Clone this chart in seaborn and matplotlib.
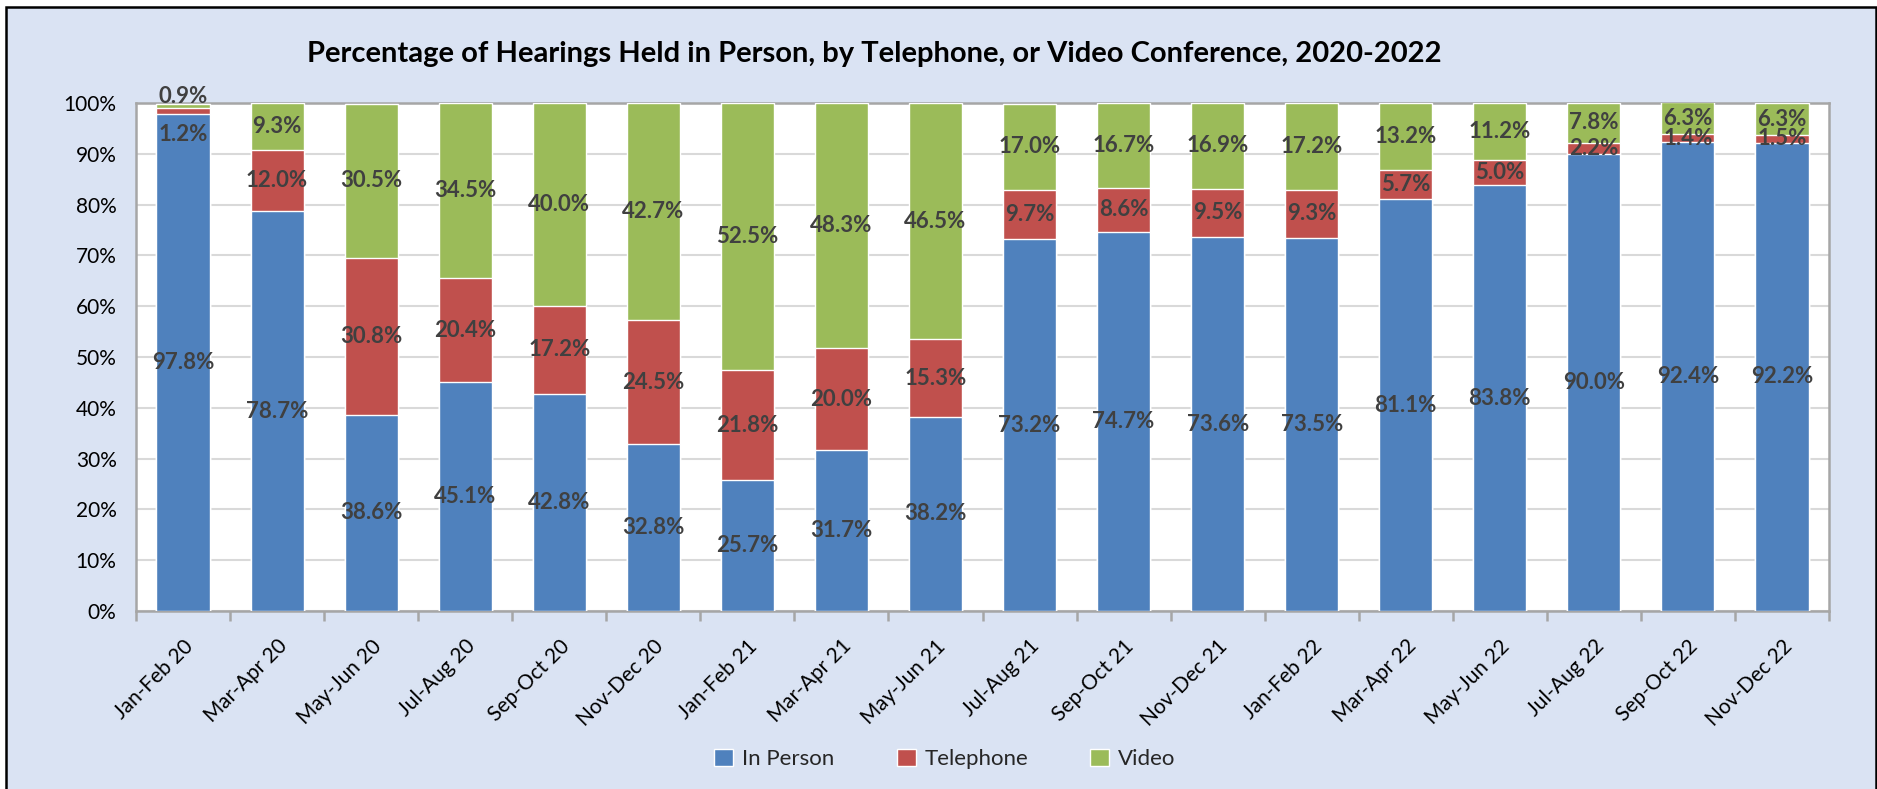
import matplotlib
matplotlib.use("Agg")
import matplotlib.pyplot as plt
from matplotlib.patches import Rectangle
import numpy as np
import pandas as pd
import seaborn as sns

periods = ["Jan-Feb 20", "Mar-Apr 20", "May-Jun 20", "Jul-Aug 20", "Sep-Oct 20",
           "Nov-Dec 20", "Jan-Feb 21", "Mar-Apr 21", "May-Jun 21", "Jul-Aug 21",
           "Sep-Oct 21", "Nov-Dec 21", "Jan-Feb 22", "Mar-Apr 22", "May-Jun 22",
           "Jul-Aug 22", "Sep-Oct 22", "Nov-Dec 22"]
in_person = [97.8, 78.7, 38.6, 45.1, 42.8, 32.8, 25.7, 31.7, 38.2,
             73.2, 74.7, 73.6, 73.5, 81.1, 83.8, 90.0, 92.4, 92.2]
telephone = [1.2, 12.0, 30.8, 20.4, 17.2, 24.5, 21.8, 20.0, 15.3,
             9.7, 8.6, 9.5, 9.3, 5.7, 5.0, 2.2, 1.4, 1.5]
video = [0.9, 9.3, 30.5, 34.5, 40.0, 42.7, 52.5, 48.3, 46.5,
         17.0, 16.7, 16.9, 17.2, 13.2, 11.2, 7.8, 6.3, 6.3]
series_names = ["In Person", "Telephone", "Video"]
y_ticks = list(range(0, 101, 10))

colors = {"In Person": "#4F81BD", "Telephone": "#C0504D", "Video": "#9BBB59"}
bg = "#DAE3F3"

sns.set_theme(style="white")
plt.rcParams["font.family"] = ["Lato", "DejaVu Sans"]

df = pd.DataFrame({"period": periods, "In Person": in_person,
                   "Telephone": telephone, "Video": video})
df["top_person"] = df["In Person"]
df["top_phone"] = df["In Person"] + df["Telephone"]
df["top_video"] = df["top_phone"] + df["Video"]

fig = plt.figure(figsize=(18.77, 7.89), dpi=100, facecolor="white")
fig.patches.append(Rectangle((6 / 1877, -0.02), 1870 / 1877, 1 - 7 / 789 + 0.02,
                             transform=fig.transFigure, facecolor=bg,
                             edgecolor="black", linewidth=1.8, zorder=-10))

ax = fig.add_axes([136 / 1877, 1 - 611 / 789, (1829 - 136) / 1877, (611 - 103) / 789])
ax.set_facecolor("white")

bar_w = 0.565
# stacked bars: draw cumulative totals from the top layer down
for col, name in [("top_video", "Video"), ("top_phone", "Telephone"), ("top_person", "In Person")]:
    sns.barplot(data=df, x="period", y=col, order=periods, color=colors[name],
                saturation=1, width=bar_w, ax=ax, zorder=3, label=name)

ax.set_xlim(-0.5, len(periods) - 0.5)
ax.set_ylim(0, 100)
ax.set_yticks(y_ticks)
ax.set_yticklabels([f"{t}%" for t in y_ticks], fontsize=15, color="black")
ax.set_xlabel("")
ax.set_ylabel("")
ax.yaxis.grid(True, color="#D9D9D9", linewidth=1.5, zorder=0)
ax.set_axisbelow(True)
for s in ax.spines.values():
    s.set_color("#A6A6A6")
    s.set_linewidth(1.8)
ax.tick_params(axis="y", length=0, pad=14)
ax.set_xticks(range(len(periods)))
ax.set_xticklabels(periods, rotation=45, ha="right", rotation_mode="anchor",
                   fontsize=15, color="black")
ax.tick_params(axis="x", which="major", length=0, pad=18)
ax.set_xticks(np.arange(-0.5, len(periods)), minor=True)
ax.tick_params(axis="x", which="minor", length=7, width=1.8, color="#A6A6A6",
               direction="out", bottom=True)

# data labels centred in each segment; the thin first-column segments are nudged apart
nudges = {(0, "Telephone"): -17, (0, "Video"): 7}
label_kw = dict(ha="center", va="center", fontsize=16, fontweight="bold",
                color="#404040", zorder=5, textcoords="offset points")
for i in range(len(periods)):
    segs = [("In Person", 0, df["top_person"][i]),
            ("Telephone", df["top_person"][i], df["top_phone"][i]),
            ("Video", df["top_phone"][i], df["top_video"][i])]
    for name, lo, hi in segs:
        val = df[name][i]
        ax.annotate(f"{val:.1f}%", xy=(i, (lo + hi) / 2),
                    xytext=(0, nudges.get((i, name), 0)), **label_kw,
                    annotation_clip=False)

fig.text(874 / 1877, 1 - 54 / 789,
         "Percentage of Hearings Held in Person, by Telephone, or Video Conference, 2020-2022",
         ha="center", va="center", fontsize=21, fontweight="bold", color="black")

handles, labels = ax.get_legend_handles_labels()
order = [labels.index(n) for n in series_names]
fig.legend([handles[k] for k in order], [labels[k] for k in order],
           loc="center", bbox_to_anchor=(945 / 1877, 1 - 759 / 789), ncol=3,
           frameon=False, fontsize=16, handlelength=0.85, handleheight=0.85,
           handletextpad=0.4, columnspacing=2.8)
if ax.get_legend() is not None:
    ax.get_legend().remove()

fig.savefig("out.png", dpi=100, facecolor=fig.get_facecolor())
